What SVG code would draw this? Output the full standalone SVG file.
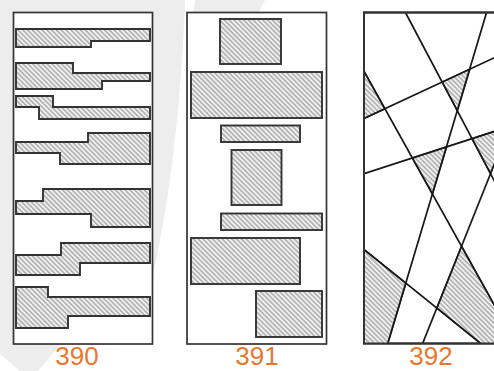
<svg xmlns="http://www.w3.org/2000/svg" width="494" height="371" viewBox="0 0 494 371">
<defs>
<pattern id="hatch" patternUnits="userSpaceOnUse" width="3.4" height="3.4" patternTransform="rotate(45)">
<rect width="3.4" height="3.4" fill="#f1f1f1"/>
<line x1="0" y1="1.7" x2="3.4" y2="1.7" stroke="#7d7d7d" stroke-width="0.9"/>
</pattern>
<clipPath id="clip392"><rect x="364" y="12.5" width="145" height="331"/></clipPath>
<style>
.panel{fill:#fff;stroke:#333;stroke-width:1.7}
.sh{fill:url(#hatch);stroke:#333;stroke-width:1.9;stroke-linejoin:miter}
.hz{fill:url(#hatch);stroke:#444;stroke-width:1.5}
.ln{stroke:#161616;stroke-width:1.7;fill:none}
.lbl{font-family:"Liberation Sans",Arial,sans-serif;font-size:26px;fill:#E8782E;text-anchor:middle}
.wm{fill:#ededed}
</style>
</defs>
<rect width="494" height="371" fill="#fff"/>
<g id="watermark">
<path class="wm" d="M0,0 L185,0 C182,90 172,190 153,275 L60,345 L38,371 L20,371 L0,354 Z"/>
<path class="wm" d="M195,0 L265,0 L245,40 L190,40 Z"/>
</g>
<g id="panel-390">
<rect class="panel" x="13.5" y="12.5" width="139" height="331.5"/>
<polygon class="sh" points="16,29 150,29 150,41 91,41 91,47 16,47"/>
<polygon class="sh" points="16,63 73,63 73,73 150,73 150,81 102,81 102,89 16,89"/>
<polygon class="sh" points="16,96 53,96 53,107 150,107 150,119 39,119 39,107 16,107"/>
<polygon class="sh" points="16,142 88,142 88,133 150,133 150,164 60,164 60,153 16,153"/>
<polygon class="sh" points="16,201 43,201 43,189 150,189 150,227 91,227 91,214 16,214"/>
<polygon class="sh" points="16,255 61,255 61,243 150,243 150,263 80,263 80,275 16,275"/>
<polygon class="sh" points="16,287 48,287 48,297 150,297 150,316 68,316 68,328 16,328"/>
<text class="lbl" x="77" y="365">390</text>
</g>
<g id="panel-391">
<rect class="panel" x="187" y="12.5" width="139.5" height="331.5"/>
<rect class="sh" x="220" y="19" width="61" height="45"/>
<rect class="sh" x="191" y="72" width="131" height="46"/>
<rect class="sh" x="221" y="125.5" width="79" height="16.5"/>
<rect class="sh" x="231.5" y="150" width="50" height="55"/>
<rect class="sh" x="221" y="213.5" width="101" height="16.5"/>
<rect class="sh" x="191" y="238" width="109" height="46"/>
<rect class="sh" x="256" y="291" width="66" height="46"/>
<text class="lbl" x="257" y="365">391</text>
</g>
<g id="panel-392">
<rect class="panel" x="364" y="12.5" width="145" height="331" style="stroke-width:2"/>
<g clip-path="url(#clip392)">
<polygon class="hz" points="364,71.2 364,118.5 384.9,108.8"/>
<polygon class="hz" points="442.2,82.1 469.9,69.1 457.4,110.9"/>
<polygon class="hz" points="412.3,158 446.7,146.8 432.5,194.2"/>
<polygon class="hz" points="472,138.6 504,128.2 504,140 490.5,173.7"/>
<polygon class="hz" points="364,249.5 405.9,283.3 387.7,344 364,344"/>
<polygon class="hz" points="461.5,246.3 436.8,308.1 481.2,344 504,344 504,322.5"/>
</g>
<g id="lines-392" clip-path="url(#clip392)">
<line class="ln" x1="405.7" y1="13" x2="580.5" y2="344"/>
<line class="ln" x1="486.7" y1="12" x2="387.6" y2="344"/>
<line class="ln" x1="364" y1="118.5" x2="520" y2="45.8"/>
<line class="ln" x1="364" y1="71.2" x2="520" y2="351.2"/>
<line class="ln" x1="364" y1="173.6" x2="520" y2="123.1"/>
<line class="ln" x1="364" y1="249.5" x2="520" y2="375"/>
<line class="ln" x1="555.2" y1="12" x2="422.4" y2="344"/>
</g>
<rect x="364" y="12.5" width="145" height="331" fill="none" stroke="#333" stroke-width="2"/>
<text class="lbl" x="431" y="365">392</text>
</g>
</svg>
